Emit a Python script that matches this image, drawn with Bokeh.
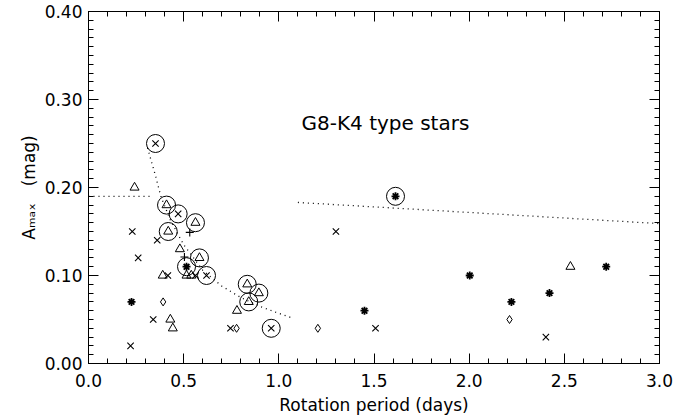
from bokeh.plotting import figure
from bokeh.models import (LinearAxis, SingleIntervalTicker, PrintfTickFormatter,
                          CustomJSTickFormatter, Range1d, Label)
from bokeh.embed import file_html
from bokeh.resources import INLINE

# ---- data ----
cross_p = [0.352, 0.471, 0.62, 0.96, 0.23, 0.361, 0.261, 0.417, 0.562, 0.221, 0.34, 0.746, 1.30, 1.508, 2.403]
cross_a = [0.25, 0.17, 0.10, 0.04, 0.15, 0.14, 0.12, 0.10, 0.10, 0.02, 0.05, 0.04, 0.15, 0.04, 0.03]

tri_p = [0.41, 0.562, 0.419, 0.583, 0.834, 0.895, 0.842, 0.242, 0.48, 0.39, 0.515, 0.54, 0.43, 0.443, 0.78, 2.532]
tri_a = [0.18, 0.16, 0.15, 0.12, 0.09, 0.08, 0.07, 0.20, 0.13, 0.10, 0.10, 0.10, 0.05, 0.04, 0.06, 0.11]

dia_p = [0.392, 0.778, 1.205, 2.212]
dia_a = [0.07, 0.04, 0.04, 0.05]

ast_p = [0.515, 1.613, 0.226, 2.003, 1.45, 2.222, 2.422, 2.72]
ast_a = [0.11, 0.19, 0.07, 0.10, 0.06, 0.07, 0.08, 0.11]

plus_p = [0.504, 0.532]
plus_a = [0.121, 0.149]

circ_p = [0.352, 0.471, 0.62, 0.96, 0.41, 0.562, 0.419, 0.583, 0.834, 0.895, 0.842, 0.515, 1.613]
circ_a = [0.25, 0.17, 0.10, 0.04, 0.18, 0.16, 0.15, 0.12, 0.09, 0.08, 0.07, 0.11, 0.19]

# dotted reference lines
sat_p = [0.0, 0.33]
sat_a = [0.19, 0.19]
curve_p = [0.31, 0.35, 0.38, 0.43, 0.50, 0.60, 0.70, 0.80, 0.90, 1.00, 1.08]
curve_a = [0.245, 0.215, 0.19, 0.163, 0.135, 0.106, 0.088, 0.075, 0.065, 0.057, 0.051]
slow_p = [1.10, 3.0]
slow_a = [0.183, 0.159]

x_ticks_interval = 0.5
y_ticks_interval = 0.1

FONT = "DejaVu Sans"

p = figure(width=696, height=417, output_backend="svg", toolbar_location=None,
           x_range=Range1d(0, 3), y_range=Range1d(0, 0.40),
           min_border_left=88, min_border_right=37, min_border_top=11, min_border_bottom=54)
p.xgrid.visible = False
p.ygrid.visible = False
p.outline_line_color = "black"
p.outline_line_width = 1
p.background_fill_color = "white"
p.border_fill_color = "white"

def style_axis(ax):
    ax.axis_line_color = "black"
    ax.major_tick_in = 10
    ax.major_tick_out = 0
    ax.minor_tick_in = 5
    ax.minor_tick_out = 0
    ax.major_tick_line_color = "black"
    ax.minor_tick_line_color = "black"
    ax.major_label_text_font = FONT
    ax.major_label_text_font_size = "17px"
    ax.major_label_text_color = "black"
    ax.axis_label_text_font = FONT
    ax.axis_label_text_font_size = "17px"
    ax.axis_label_text_font_style = "normal"
    ax.axis_label_text_color = "black"

xt = SingleIntervalTicker(interval=x_ticks_interval, num_minor_ticks=5)
yt = SingleIntervalTicker(interval=y_ticks_interval, num_minor_ticks=10)

p.xaxis.ticker = xt
p.yaxis.ticker = yt
p.xaxis.formatter = PrintfTickFormatter(format="%.1f")
p.yaxis.formatter = PrintfTickFormatter(format="%.2f")
p.xaxis.axis_label = "Rotation period (days)"
p.yaxis.axis_label = "A\u2098\u2090\u2093\u2003(mag)"
style_axis(p.xaxis[0])
style_axis(p.yaxis[0])
p.xaxis.major_label_standoff = 10
p.xaxis.axis_label_standoff = 5
p.yaxis.major_label_standoff = 6
p.yaxis.axis_label_standoff = 3

blank = CustomJSTickFormatter(code="return ''")
top = LinearAxis(ticker=SingleIntervalTicker(interval=x_ticks_interval, num_minor_ticks=5),
                 formatter=blank, major_label_standoff=0)
right = LinearAxis(ticker=SingleIntervalTicker(interval=y_ticks_interval, num_minor_ticks=10),
                   formatter=blank, major_label_standoff=0)
style_axis(top)
style_axis(right)
p.add_layout(top, "above")
p.add_layout(right, "right")

dot = dict(line_color="black", line_width=1.3, line_dash="1 4")
p.line(sat_p, sat_a, **dot)
p.line(curve_p, curve_a, **dot)
p.line(slow_p, slow_a, **dot)

p.scatter(cross_p, cross_a, marker="x", size=9, line_color="black", line_width=1.1)
p.scatter(tri_p, tri_a, marker="triangle", size=9, line_color="black", fill_color=None, line_width=1.0)
p.scatter(dia_p, dia_a, marker="diamond", size=8, line_color="black", fill_color=None, line_width=1.0)
p.scatter(ast_p, ast_a, marker="asterisk", size=8, line_color="black", line_width=1.8)
p.scatter(plus_p, plus_a, marker="cross", size=8, line_color="black", line_width=1.1)
p.scatter(circ_p, circ_a, marker="circle", size=18, line_color="black", fill_color=None, line_width=1.0)

p.add_layout(Label(x=1.56, y=0.273, text="G8-K4 type stars", text_font=FONT,
                   text_font_size="20px", text_align="center", text_baseline="middle",
                   text_color="black"))

open("out.html", "w").write(file_html(p, INLINE))
